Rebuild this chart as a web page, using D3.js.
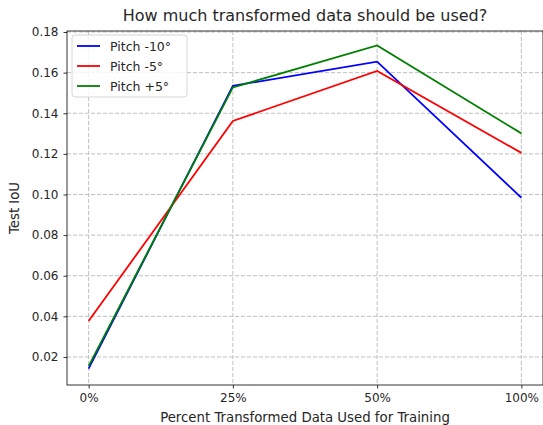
<!DOCTYPE html>
<html>
    <head>
        <script src="https://cdn.jsdelivr.net/npm/d3@7"></script>
        <title>Transformed data</title>
    </head>
    <style>
        body { margin: 0; background: #fff; }
        text { font-family: "DejaVu Sans", sans-serif; fill: #262626; }
    </style>
    <body></body>

    <script>
        // data
        var categories = ["0%", "25%", "50%", "100%"];
        var seriesNames = ["Pitch -10°", "Pitch -5°", "Pitch +5°"];
        var seriesColors = ["#0000ff", "#ff0000", "#008000"];
        var pitchMinus10 = [0.0143, 0.1535, 0.1654, 0.0984];
        var pitchMinus5 = [0.0377, 0.1362, 0.1608, 0.1205];
        var pitchPlus5 = [0.0155, 0.1527, 0.1734, 0.1301];
        var yTicks = [0.02, 0.04, 0.06, 0.08, 0.10, 0.12, 0.14, 0.16, 0.18];

        var allSeries = [pitchMinus10, pitchMinus5, pitchPlus5];

        var width = 543;
        var height = 425;
        // plot box (don't call it "top", that's window.top)
        var plotLeft = 67, plotRight = 543, plotTop = 31, plotBottom = 385;

        var xScale = d3.scalePoint()
                        .domain(categories)
                        .range([plotLeft, plotRight])
                        .padding(0.15);

        var yScale = d3.scaleLinear()
                        .domain([0.0062, 0.1805])
                        .range([plotBottom, plotTop]);

        var svg = d3.select("body")
                    .append("svg")
                    .attr("width", width)
                    .attr("height", height);

        // grid
        svg.append("g")
            .selectAll("line")
            .data(yTicks)
            .enter()
            .append("line")
            .attr("x1", plotLeft).attr("x2", plotRight)
            .attr("y1", function(d){ return yScale(d); })
            .attr("y2", function(d){ return yScale(d); })
            .attr("stroke", "#b0b0b0")
            .attr("stroke-width", 0.8)
            .attr("stroke-dasharray", "4,2");

        svg.append("g")
            .selectAll("line")
            .data(categories)
            .enter()
            .append("line")
            .attr("x1", function(d){ return xScale(d); })
            .attr("x2", function(d){ return xScale(d); })
            .attr("y1", plotTop).attr("y2", plotBottom)
            .attr("stroke", "#b0b0b0")
            .attr("stroke-width", 0.8)
            .attr("stroke-dasharray", "4,2");

        // axes
        var xAxis = d3.axisBottom(xScale).tickSize(3.5).tickPadding(5);
        var yAxis = d3.axisLeft(yScale).tickValues(yTicks)
                        .tickFormat(d3.format(".2f")).tickSize(3.5).tickPadding(5);

        var gx = svg.append("g")
            .attr("transform", "translate(0," + plotBottom + ")")
            .call(xAxis);
        var gy = svg.append("g")
            .attr("transform", "translate(" + plotLeft + ",0)")
            .call(yAxis);

        [gx, gy].forEach(function(g){
            g.select(".domain").remove();
            g.selectAll("line").attr("stroke", "#000").attr("stroke-width", 0.8);
            g.selectAll("text").attr("font-size", 12)
                .attr("font-family", "DejaVu Sans").attr("fill", "#262626");
        });

        // lines
        var line = d3.line()
                    .x(function(d, i){ return xScale(categories[i]); })
                    .y(function(d){ return yScale(d); });

        svg.append("g")
            .selectAll("path")
            .data(allSeries)
            .enter()
            .append("path")
            .attr("d", line)
            .attr("fill", "none")
            .attr("stroke", function(d, i){ return seriesColors[i]; })
            .attr("stroke-width", 1.8);

        // frame
        svg.append("rect")
            .attr("x", plotLeft).attr("y", plotTop)
            .attr("width", plotRight - plotLeft).attr("height", plotBottom - plotTop)
            .attr("fill", "none")
            .attr("stroke", "#000")
            .attr("stroke-width", 0.8);

        // title & labels
        svg.append("text")
            .attr("x", (plotLeft + plotRight) / 2).attr("y", 21)
            .attr("text-anchor", "middle")
            .attr("font-size", 16)
            .text("How much transformed data should be used?");

        svg.append("text")
            .attr("x", (plotLeft + plotRight) / 2).attr("y", 422)
            .attr("text-anchor", "middle")
            .attr("font-size", 13.3)
            .text("Percent Transformed Data Used for Training");

        svg.append("text")
            .attr("transform", "translate(19," + ((plotTop + plotBottom) / 2) + ") rotate(-90)")
            .attr("text-anchor", "middle")
            .attr("font-size", 13.3)
            .text("Test IoU");

        // legend
        var legend = svg.append("g").attr("transform", "translate(72,35)");
        legend.append("rect")
            .attr("width", 115).attr("height", 62)
            .attr("rx", 3)
            .attr("fill", "#fff").attr("fill-opacity", 0.8)
            .attr("stroke", "#cccccc").attr("stroke-width", 0.8);

        var items = legend.selectAll("g.item")
            .data(seriesNames)
            .enter()
            .append("g")
            .attr("class", "item")
            .attr("transform", function(d, i){ return "translate(0," + (11 + i * 20) + ")"; });

        items.append("line")
            .attr("x1", 5).attr("x2", 28)
            .attr("y1", 0).attr("y2", 0)
            .attr("stroke", function(d, i){ return seriesColors[i]; })
            .attr("stroke-width", 1.8);

        items.append("text")
            .attr("x", 38).attr("y", 4.5)
            .attr("font-size", 12.5)
            .text(function(d){ return d; });
    </script>
</html>
